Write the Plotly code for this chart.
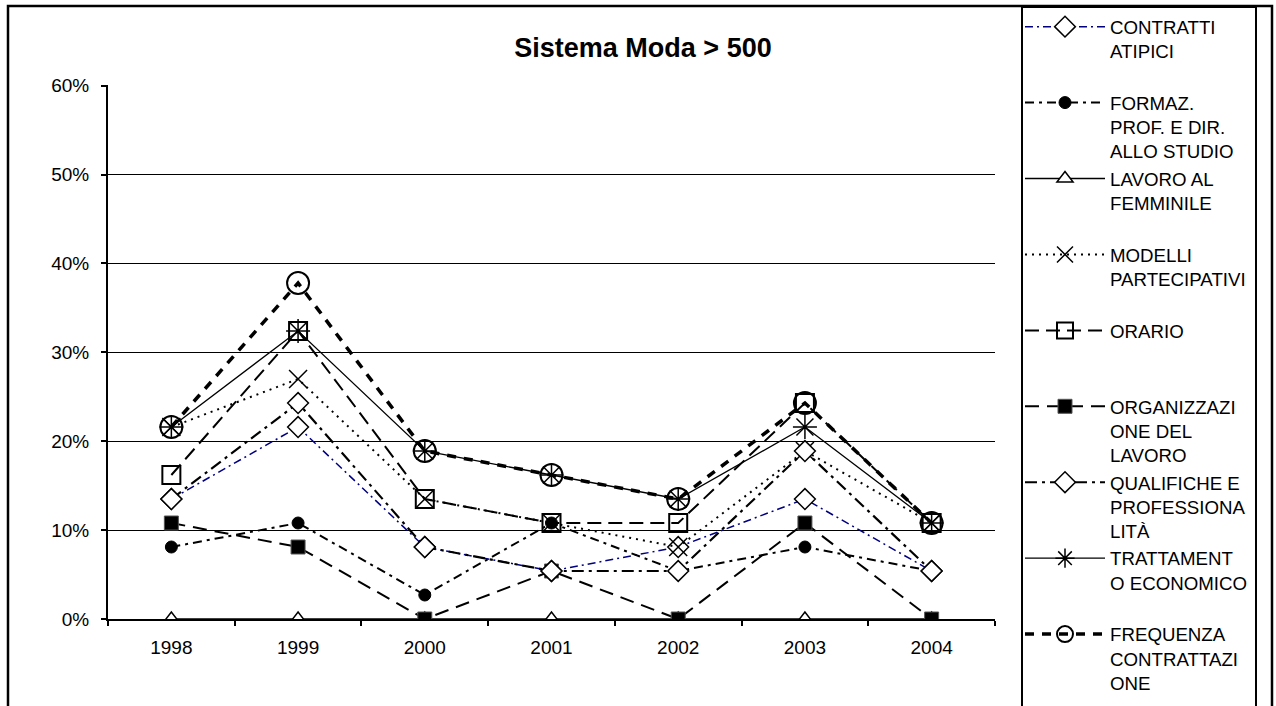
import plotly.graph_objects as go

# ---------------- data ----------------
years = ["1998", "1999", "2000", "2001", "2002", "2003", "2004"]

contratti_atipici = [0.135, 0.216, 0.081, 0.054, 0.081, 0.135, 0.054]
formaz_prof_dir_studio = [0.081, 0.108, 0.027, 0.108, 0.054, 0.081, 0.054]
lavoro_femminile = [0.0, 0.0, 0.0, 0.0, 0.0, 0.0, 0.0]
modelli_partecipativi = [0.216, 0.270, 0.135, 0.108, 0.081, 0.189, 0.108]
orario = [0.162, 0.324, 0.135, 0.108, 0.108, 0.243, 0.108]
organizzazione_lavoro = [0.108, 0.081, 0.0, 0.054, 0.0, 0.108, 0.0]
qualifiche_professionalita = [0.135, 0.243, 0.081, 0.054, 0.054, 0.189, 0.054]
trattamento_economico = [0.216, 0.324, 0.189, 0.162, 0.135, 0.216, 0.108]
frequenza_contrattazione = [0.216, 0.378, 0.189, 0.162, 0.135, 0.243, 0.108]

series_names = [
    "CONTRATTI<br>ATIPICI<br>\u00a0",
    "FORMAZ.<br>PROF. E DIR.<br>ALLO STUDIO",
    "LAVORO AL<br>FEMMINILE<br>\u00a0",
    "MODELLI<br>PARTECIPATIVI<br>\u00a0",
    "ORARIO<br>\u00a0<br>\u00a0",
    "ORGANIZZAZI<br>ONE DEL<br>LAVORO",
    "QUALIFICHE E<br>PROFESSIONA<br>LITÀ",
    "TRATTAMENT<br>O ECONOMICO<br>\u00a0",
    "FREQUENZA<br>CONTRATTAZI<br>ONE",
]
series_values = [
    contratti_atipici, formaz_prof_dir_studio, lavoro_femminile,
    modelli_partecipativi, orario, organizzazione_lavoro,
    qualifiche_professionalita, trattamento_economico, frequenza_contrattazione,
]
y_tick_values = [0.0, 0.1, 0.2, 0.3, 0.4, 0.5, 0.6]
y_tick_labels = ["0%", "10%", "20%", "30%", "40%", "50%", "60%"]
chart_title = "Sistema Moda > 500"

# ---------------- styles ----------------
styles = [
    dict(line=dict(color="#000080", width=1.5, dash="8px,4px,2px,4px"),
         marker=dict(symbol="diamond", size=16, color="white", line=dict(color="black", width=1.5))),
    dict(line=dict(color="black", width=2, dash="9px,5px,3px,5px"),
         marker=dict(symbol="circle", size=12, color="black", line=dict(color="black", width=1))),
    dict(line=dict(color="black", width=1.3, dash="solid"),
         marker=dict(symbol="triangle-up", size=14, color="white", line=dict(color="black", width=1.5))),
    dict(line=dict(color="black", width=2, dash="2px,5px"),
         marker=dict(symbol="x-thin-open", size=18, color="black", line=dict(color="black", width=1.5))),
    dict(line=dict(color="black", width=2, dash="14px,7px"),
         marker=dict(symbol="square-open", size=18, color="black", line=dict(color="black", width=2))),
    dict(line=dict(color="black", width=2, dash="14px,8px"),
         marker=dict(symbol="square", size=14, color="black", line=dict(color="#555555", width=1))),
    dict(line=dict(color="black", width=2.2, dash="12px,5px,3px,5px"),
         marker=dict(symbol="diamond", size=16, color="white", line=dict(color="black", width=1.5))),
    dict(line=dict(color="black", width=1.3, dash="solid"),
         marker=dict(symbol="asterisk-open", size=20, color="black", line=dict(color="black", width=1.5))),
    dict(line=dict(color="black", width=3.5, dash="9px,8px"),
         marker=dict(symbol="circle-open", size=22, color="black", line=dict(color="black", width=2))),
]

W, H = 1276, 706
FONT = "Liberation Sans, Arial, sans-serif"

fig = go.Figure()
for name, vals, st in zip(series_names, series_values, styles):
    fig.add_trace(go.Scatter(x=years, y=vals, name=name, mode="lines+markers",
                             line=st["line"], marker=st["marker"]))


def px_x(p):
    return p / W


def px_y(p):
    return 1 - p / H


fig.update_layout(
    width=W, height=H,
    margin=dict(l=0, r=0, t=0, b=0, autoexpand=False),
    paper_bgcolor="white", plot_bgcolor="white",
    font=dict(family=FONT, size=18, color="black"),
    showlegend=True,
    title=dict(text="<b>" + chart_title + "</b>", x=px_x(643), xanchor="center",
               y=px_y(48), yanchor="middle", font=dict(family=FONT, size=27, color="black")),
    xaxis=dict(domain=[px_x(108), px_x(995)], type="category", range=[-0.5, 6.5],
               tickson="boundaries", ticks="outside", ticklen=5, tickwidth=1.5, tickcolor="black",
               showline=True, linecolor="black", linewidth=2, showgrid=False, zeroline=False,
               ticklabelstandoff=10, tickfont=dict(family=FONT, size=19)),
    yaxis=dict(domain=[px_y(619), px_y(85)], range=[0, 0.6008],
               tickmode="array", tickvals=y_tick_values, ticktext=y_tick_labels,
               ticks="outside", ticklen=5, tickwidth=1.5, tickcolor="black",
               showline=True, linecolor="black", linewidth=2,
               showgrid=True, gridcolor="black", gridwidth=1.3, zeroline=False,
               ticklabelstandoff=8, tickfont=dict(family=FONT, size=19)),
    legend=dict(x=px_x(1020), xanchor="left", y=px_y(8), yanchor="top",
                bgcolor="rgba(0,0,0,0)", borderwidth=0, valign="top",
                itemsizing="trace", itemwidth=80, tracegroupgap=0, maxheight=2000,
                font=dict(family=FONT, size=18.7, color="black")),
    shapes=[
        dict(type="rect", xref="paper", yref="paper", x0=px_x(8), x1=px_x(1272),
             y0=px_y(6), y1=px_y(740), line=dict(color="black", width=2.5), layer="below"),
        dict(type="rect", xref="paper", yref="paper", x0=px_x(1022), x1=px_x(1256),
             y0=px_y(7), y1=px_y(740), line=dict(color="black", width=2), layer="below"),
    ],
)

fig.write_html("out.html")
